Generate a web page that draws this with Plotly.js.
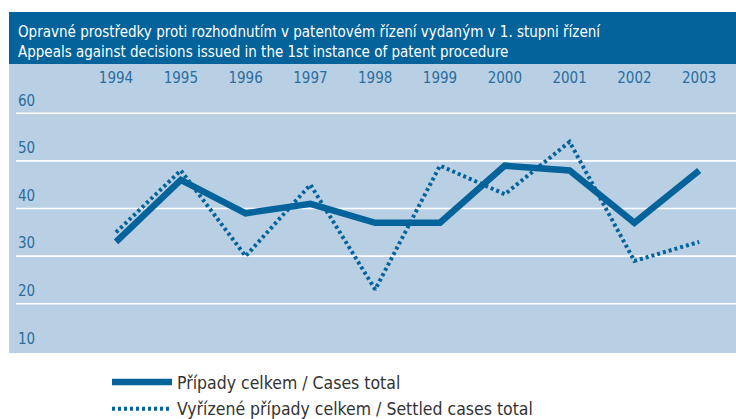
<!DOCTYPE html>
<html>
<head>
<meta charset="utf-8">
<script src="https://cdn.plot.ly/plotly-3.0.1.min.js"></script>
<style>html,body{margin:0;padding:0;background:#fff;}#chart{width:736px;height:419px;}</style>
</head>
<body>
<div id="chart"></div>
<script>
// Data
const years = ['1994','1995','1996','1997','1998','1999','2000','2001','2002','2003'];
const casesTotal = [33, 46, 39, 41, 37, 37, 49, 48, 37, 48];
const settledTotal = [35, 48, 30, 45, 23, 49, 43, 54, 29, 33];
const yTickVals = [10, 20, 30, 40, 50, 60];
const gridVals = [20, 30, 40, 50, 60];
const seriesNames = ['Případy celkem / Cases total', 'Vyřízené případy celkem / Settled cases total'];
const titleLines = ['Opravné prostředky proti rozhodnutím v patentovém řízení vydaným v 1. stupni řízení',
                    'Appeals against decisions issued in the 1st instance of patent procedure'];

const DARK = '#04639a';
const LIGHT = '#b9d0e4';
const TICK = '#2a6d9e';
const FONT = '"DejaVu Sans Condensed", "Liberation Sans Narrow", sans-serif';

// plot area geometry (px)
const L = 13, T = 64, B = 379, W = 736;
const PW = W - L, PH = B - T;

const traces = [
  {x: years, y: casesTotal, name: seriesNames[0], type: 'scatter', mode: 'lines',
   line: {color: DARK, width: 6.5}, legendgroup: 'a', hoverinfo: 'skip'},
  {x: years, y: settledTotal, name: seriesNames[1], type: 'scatter', mode: 'lines',
   line: {color: DARK, width: 4, dash: '3px,3px'}, legendgroup: 'b', hoverinfo: 'skip'}
];

const shapes = [
  // light panel
  {type: 'rect', xref: 'paper', yref: 'paper', x0: (9 - L)/PW, x1: 1.01, y0: (B - 353)/PH, y1: 1,
   fillcolor: LIGHT, line: {width: 0}, layer: 'below'},
  // dark title band
  {type: 'rect', xref: 'paper', yref: 'paper', x0: (9 - L)/PW, x1: 1.01, y0: 1, y1: (B - 12)/PH,
   fillcolor: DARK, line: {width: 0}, layer: 'below'}
];
gridVals.forEach(v => shapes.push({type: 'line', xref: 'paper', yref: 'y', x0: (16 - L)/PW, x1: 1, y0: v, y1: v,
  line: {color: '#ffffff', width: 1.6}, layer: 'below'}));

const layout = {
  width: 736, height: 419,
  margin: {l: L, r: 0, t: T, b: 419 - B, pad: 0, autoexpand: false},
  paper_bgcolor: '#ffffff',
  plot_bgcolor: 'rgba(0,0,0,0)',
  font: {family: FONT, color: TICK},
  title: {
    text: titleLines.join('<br>'),
    font: {family: FONT, size: 15, color: '#ffffff'},
    xref: 'container', yref: 'container',
    x: 18/736, xanchor: 'left',
    y: 1 - 37/419, yanchor: 'middle'
  },
  xaxis: {
    type: 'category', side: 'top', range: [-1.590, 9.568], automargin: false,
    showgrid: false, zeroline: false, showline: false, ticks: '',
    ticklabelposition: 'inside', ticklabelstandoff: 5,
    tickfont: {family: FONT, size: 15, color: TICK}, fixedrange: true
  },
  yaxis: {
    range: [4.21, 70.34], tickvals: yTickVals, ticktext: yTickVals.map(String), automargin: false,
    showgrid: false, zeroline: false, showline: false, ticks: '',
    ticklabelposition: 'inside', ticklabelshift: -13, ticklabelstandoff: 2,
    tickfont: {family: FONT, size: 15, color: TICK}, fixedrange: true
  },
  shapes: shapes,
  showlegend: true,
  legend: {
    xref: 'container', yref: 'container',
    x: 107/736, xanchor: 'left', y: 1 - 364/419, yanchor: 'top',
    bgcolor: 'rgba(0,0,0,0)', borderwidth: 0,
    font: {family: FONT, size: 17.5, color: '#333333'},
    itemwidth: 60, tracegroupgap: 1
  }
};

Plotly.newPlot('chart', traces, layout, {staticPlot: true, displayModeBar: false});
</script>
</body>
</html>
